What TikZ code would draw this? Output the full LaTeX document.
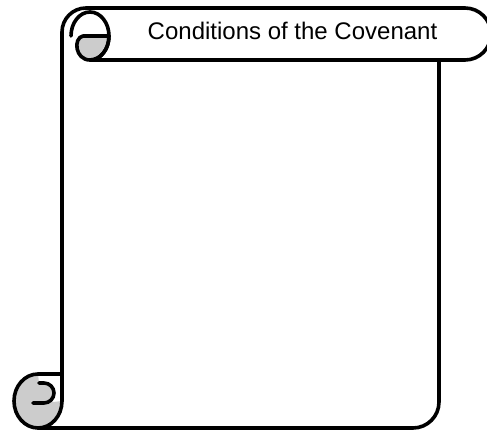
\documentclass[tikz,border=0pt]{standalone}
\usepackage{fontspec}
\setmainfont{Liberation Sans}
\begin{document}
\begin{tikzpicture}[x=1pt,y=-1pt,
    scroll/.style={line width=3.6pt, line join=round, line cap=round},
    curl/.style={fill=black!20}]
    \useasboundingbox (0,0) rectangle (487,433);
    \clip (0,0) rectangle (487,433);
    % sheet and top band
    \draw[scroll] (62,401) -- (62,32) arc[start angle=180, end angle=270, radius=24]
        -- (465,8) arc[start angle=270, end angle=450, radius=26] -- (90,60);
    \draw[scroll] (439,60) -- (439,402) arc[start angle=0, end angle=90, radius=26] -- (38,428);
    % top curl
    \filldraw[scroll,curl] (83,36) -- (109,36) arc[start angle=0, end angle=90, x radius=19, y radius=24]
        .. controls (75,60) and (73,38) .. (83,36) -- cycle;
    \draw[scroll] (71,36) arc[start angle=180, end angle=450, x radius=19, y radius=24];
    % bottom curl
    \fill[curl] (38,374) arc[start angle=270, end angle=0, x radius=24, y radius=27]
        -- (44,403) arc[start angle=90, end angle=-90, radius=10] -- (39,383) -- cycle;
    \draw[scroll] (62,401) arc[start angle=0, end angle=270, x radius=24, y radius=27] -- (62,374);
    \draw[scroll] (33,403) -- (44,403) arc[start angle=90, end angle=-90, radius=10] -- (39,383);
    \node[anchor=base, font=\fontsize{24}{28}\selectfont] (title) at (292.5,39.3) {Conditions of the Covenant};
\end{tikzpicture}
\end{document}
